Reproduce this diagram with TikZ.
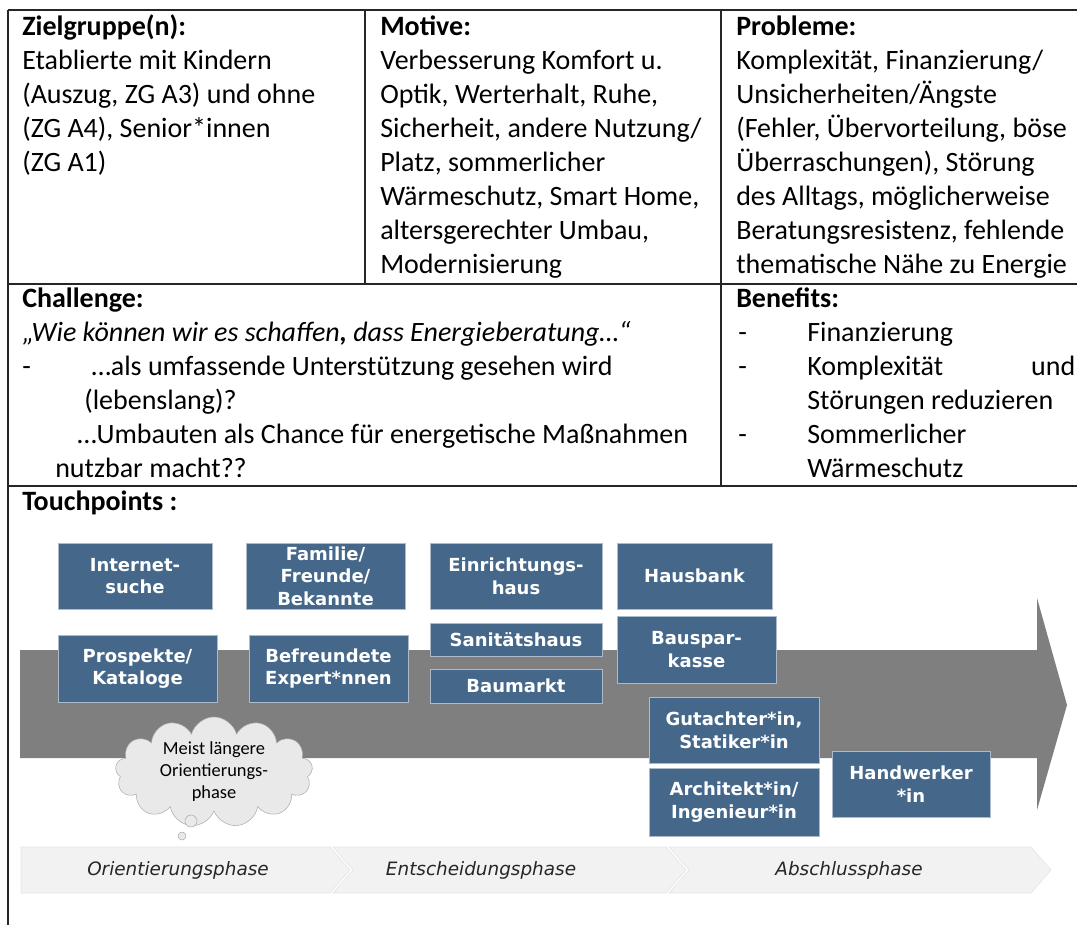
\documentclass[tikz,border=0pt]{standalone}
\usepackage{fontspec}
\setmainfont{Carlito}
\newfontfamily\boxfont{DejaVu Sans}
\usepackage{xcolor}
\usetikzlibrary{shapes.symbols}

\definecolor{tpblue}{HTML}{45688A}
\definecolor{arrowgray}{HTML}{7F7F7F}
\definecolor{phasegray}{HTML}{F2F2F2}
\definecolor{cloudgray}{HTML}{E9E9E9}

\begin{document}
\begin{tikzpicture}[
    x=0.75pt, y=-0.75pt,
    grid/.style={line width=1.4pt,black!85},
    cell/.style={anchor=north west,inner sep=0pt,align=left,
                 font=\fontsize{21}{25.5}\selectfont},
    tp/.style={fill=tpblue,draw=tpblue!45!white,line width=0.6pt,inner sep=1pt,
               align=center,text=white,
               font=\boxfont\bfseries\fontsize{13.5}{17}\selectfont},
    phase/.style={fill=phasegray,draw=black!10,line width=0.5pt},
    phaselabel/.style={font=\boxfont\itshape\fontsize{13.8}{16}\selectfont,text=black!85},
  ]
  \useasboundingbox (0,0) rectangle (1077,925);

  % --- table frame ---
  \draw[grid] (8,10) -- (1077,10);
  \draw[grid] (8,10) -- (8,925);
  \draw[grid] (8,284) -- (1077,284);
  \draw[grid] (8,486) -- (1077,486);
  \draw[grid] (365,10) -- (365,284);
  \draw[grid] (721,10) -- (721,486);

  % --- first row (first baseline at y=35) ---
  \node[cell] (ziel) at (22,11.2) {\strut\textbf{Zielgruppe(n):}\\
    Etablierte mit Kindern\\
    (Auszug, ZG A3) und ohne\\
    (ZG A4), Senior*innen\\
    (ZG A1)};
  \node[cell] (motive) at (380,11.2) {\strut\textbf{Motive:}\\
    Verbesserung Komfort u.\\
    Optik, Werterhalt, Ruhe,\\
    Sicherheit, andere Nutzung/\\
    Platz, sommerlicher\\
    Wärmeschutz, Smart Home,\\
    altersgerechter Umbau,\\
    Modernisierung};
  \node[cell] (probleme) at (736,11.2) {\strut\textbf{Probleme:}\\
    Komplexität, Finanzierung/\\
    Unsicherheiten/Ängste\\
    (Fehler, Übervorteilung, böse\\
    Überraschungen), Störung\\
    des Alltags, möglicherweise\\
    Beratungsresistenz, fehlende\\
    thematische Nähe zu Energie};

  % --- second row (first baseline at y=307) ---
  \node[cell] (challenge) at (22,283.2) {\strut\textbf{Challenge:}\\
    \textit{„Wie können wir es schaffen\textbf{,} dass Energieberatung…“}\\
    \makebox[52pt][l]{-}…als umfassende Unterstützung gesehen wird\\
    \hspace*{46.5pt}(lebenslang)?\\
    \hspace*{41.25pt}…Umbauten als Chance für energetische Maßnahmen\\
    \hspace*{24.75pt}nutzbar macht??};
  \node[cell] (benefits) at (736,283.2) {\strut\textbf{Benefits:}\\
    \hspace*{1.5pt}\makebox[51.75pt][l]{-}Finanzierung\\
    \hspace*{1.5pt}\makebox[51.75pt][l]{-}\makebox[201pt][l]{Komplexität\hfill und}\\
    \hspace*{53.25pt}Störungen reduzieren\\
    \hspace*{1.5pt}\makebox[51.75pt][l]{-}Sommerlicher\\
    \hspace*{53.25pt}Wärmeschutz};

  % --- touchpoints ---
  \node[cell,anchor=base west] (touch) at (22,510) {\textbf{Touchpoints :}};

  % big grey arrow behind the boxes
  \fill[arrowgray] (20,650) -- (1037,650) -- (1037,598) -- (1067,705)
    -- (1037,810) -- (1037,758) -- (20,758) -- cycle;

  \node[tp,minimum width=115.5pt,minimum height=49.5pt]  (inet)  at (135,576)   {Internet-\\suche};
  \node[tp,minimum width=119.25pt,minimum height=49.5pt] (fam)   at (325.5,576) {Familie/\\Freunde/\\Bekannte};
  \node[tp,minimum width=129pt,minimum height=49.5pt]    (einr)  at (516,576)   {Einrichtungs-\\haus};
  \node[tp,minimum width=116.25pt,minimum height=49.5pt] (hbank) at (694.5,576) {Hausbank};
  \node[tp,minimum width=119.25pt,minimum height=50.25pt] (prosp) at (137.5,668.5) {Prospekte/\\Kataloge};
  \node[tp,minimum width=119.25pt,minimum height=50.25pt] (befr)  at (328.5,668.5) {Befreundete\\Expert*nnen};
  \node[tp,minimum width=129pt,minimum height=24.75pt]   (sani)  at (516,639.5) {Sanitätshaus};
  \node[tp,minimum width=129pt,minimum height=25.5pt]    (baum)  at (516,686)   {Baumarkt};
  \node[tp,minimum width=119.25pt,minimum height=50.25pt] (bspar) at (696.5,649.5) {Bauspar-\\kasse};
  \node[tp,minimum width=127.5pt,minimum height=49.5pt]  (gut)   at (734,730)   {Gutachter*in,\\Statiker*in};
  \node[tp,minimum width=127.5pt,minimum height=51pt]    (arch)  at (734,802)   {Architekt*in/\\Ingenieur*in};
  \node[tp,minimum width=118.5pt,minimum height=49.5pt]  (handw) at (911,784)   {Handwerker\\*in};

  % --- thought cloud ---
  \node[cloud,cloud puffs=13,cloud ignores aspect,draw=gray!65,fill=cloudgray,
        minimum width=148pt,minimum height=68pt,inner sep=0pt,align=center,
        font=\fontsize{13.8}{16.5}\selectfont] (orient) at (214,772)
        {Meist längere\\Orientierungs-\\phase};
  \node[circle,draw=gray!65,fill=cloudgray,minimum size=9pt,inner sep=0pt] (bub1) at (191,821) {};
  \node[circle,draw=gray!65,fill=cloudgray,minimum size=6pt,inner sep=0pt] (bub2) at (182,836) {};

  % --- phase bar ---
  \path[phase] (21,847) -- (330,847) -- (350,870) -- (330,893) -- (21,893) -- cycle;
  \path[phase] (333,847) -- (666,847) -- (686,870) -- (666,893) -- (333,893) -- (353,870) -- cycle;
  \path[phase] (669,847) -- (1031,847) -- (1051,870) -- (1031,893) -- (669,893) -- (689,870) -- cycle;
  \node[phaselabel] (p1) at (178,870) {Orientierungsphase};
  \node[phaselabel] (p2) at (481,870) {Entscheidungsphase};
  \node[phaselabel] (p3) at (849,870) {Abschlussphase};

\end{tikzpicture}
\end{document}
